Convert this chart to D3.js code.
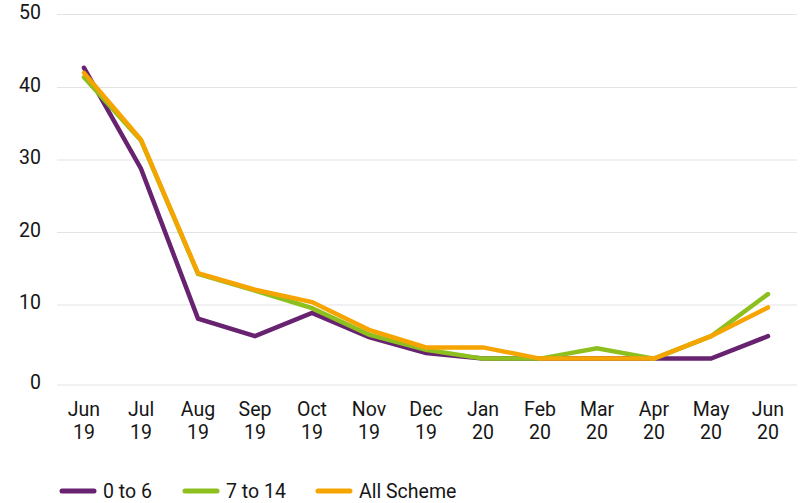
<!DOCTYPE html>
<html>
<head>
<meta charset="utf-8">
<script src="https://cdn.jsdelivr.net/npm/d3@7"></script>
<style>
  body { margin: 0; background: #fff; }
  #chart { width: 806px; height: 503px; }
  text { font-family: Roboto, "Noto Sans", sans-serif; fill: #161616; }
</style>
</head>
<body>
<div id="chart"></div>
<script>
// Data
const months = ["Jun", "Jul", "Aug", "Sep", "Oct", "Nov", "Dec", "Jan", "Feb", "Mar", "Apr", "May", "Jun"];
const years  = ["19", "19", "19", "19", "19", "19", "19", "20", "20", "20", "20", "20", "20"];
const yTicks = [0, 10, 20, 30, 40, 50];

const age0to6   = [42.7, 28.8, 8.3, 6.1, 9.0, 6.0, 4.0, 3.3, 3.3, 3.3, 3.3, 3.3, 6.1];
const age7to14  = [41.4, 32.7, 14.3, 12.0, 9.6, 6.3, 4.4, 3.3, 3.3, 4.6, 3.3, 6.1, 11.5];
const allScheme = [42.0, 32.8, 14.4, 12.1, 10.4, 6.9, 4.7, 4.7, 3.3, 3.3, 3.3, 6.1, 9.7];

const series = [
    { name: "0 to 6", values: age0to6, color: "#672270" },
    { name: "7 to 14", values: age7to14, color: "#8dc01e" },
    { name: "All Scheme", values: allScheme, color: "#f6a400" }
];

const width = 806, height = 503;

const svg = d3.select("#chart")
    .append("svg")
    .attr("width", width)
    .attr("height", height);

const x = d3.scalePoint()
    .domain(d3.range(months.length))
    .range([84, 768]);

// the reference's grid is slightly uneven, so use a piecewise scale
const y = d3.scaleLinear()
    .domain(yTicks)
    .range([385, 305, 232.5, 160, 87.5, 14.5]);

// Gridlines
svg.append("g")
    .selectAll("line")
    .data(yTicks)
    .enter().append("line")
    .attr("x1", 57)
    .attr("x2", 797)
    .attr("y1", d => y(d))
    .attr("y2", d => y(d))
    .attr("stroke", "#e3e3e3")
    .attr("stroke-width", 1.2);

// Y labels
svg.append("g")
    .selectAll("text")
    .data(yTicks)
    .enter().append("text")
    .attr("x", 41)
    .attr("y", d => y(d) + 4)
    .attr("text-anchor", "end")
    .attr("font-size", 19.5)
    .text(d => d);

// X labels, month and year as two separate texts
const xg = svg.append("g")
    .selectAll("g")
    .data(months.map((m, i) => ({ m, yr: years[i], i })))
    .enter().append("g")
    .attr("transform", d => `translate(${x(d.i)},0)`);

xg.append("text")
    .attr("y", 416)
    .attr("text-anchor", "middle")
    .attr("font-size", 19.5)
    .text(d => d.m);

xg.append("text")
    .attr("y", 439)
    .attr("text-anchor", "middle")
    .attr("font-size", 19.5)
    .text(d => d.yr);

// Lines
const line = d3.line()
    .x((d, i) => x(i))
    .y(d => y(d));

svg.append("g")
    .selectAll("path")
    .data(series)
    .enter().append("path")
    .attr("d", d => line(d.values))
    .attr("fill", "none")
    .attr("stroke", d => d.color)
    .attr("stroke-width", 4.5)
    .attr("stroke-linecap", "round")
    .attr("stroke-linejoin", "miter");

// Legend
const legendX = [62, 185, 318];
const legend = svg.append("g")
    .selectAll("g")
    .data(series)
    .enter().append("g")
    .attr("transform", (d, i) => `translate(${legendX[i]},491)`);

legend.append("line")
    .attr("x1", 0)
    .attr("x2", 32)
    .attr("stroke", d => d.color)
    .attr("stroke-width", 5)
    .attr("stroke-linecap", "round");

legend.append("text")
    .attr("x", 41)
    .attr("y", 7)
    .attr("font-size", 19.5)
    .text(d => d.name);
</script>
</body>
</html>
